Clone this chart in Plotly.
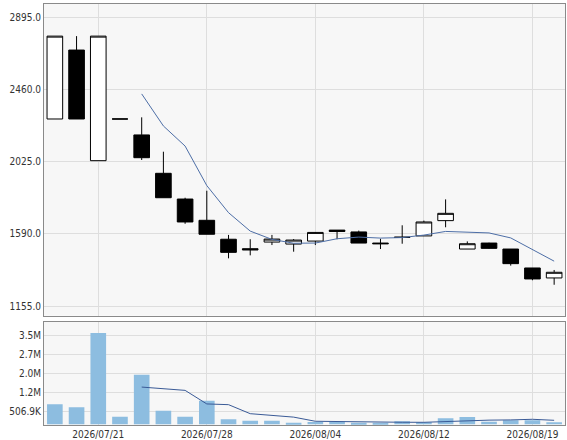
import plotly.graph_objects as go

dates = ["2026/07/16", "2026/07/17", "2026/07/21", "2026/07/22", "2026/07/23", "2026/07/24",
         "2026/07/27", "2026/07/28", "2026/07/29", "2026/07/30", "2026/07/31", "2026/08/03",
         "2026/08/04", "2026/08/05", "2026/08/06", "2026/08/07", "2026/08/10", "2026/08/12",
         "2026/08/13", "2026/08/14", "2026/08/17", "2026/08/18", "2026/08/19", "2026/08/20"]

open_p = [2281, 2696, 2030, 2281, 2185, 1954, 1799, 1671, 1557, 1500, 1540, 1528,
          1546, 1612, 1601, 1534, 1570, 1577, 1669, 1498, 1534, 1498, 1384, 1324]
high_p = [2780, 2780, 2780, 2281, 2291, 2084, 1807, 1849, 1583, 1557, 1583, 1558,
          1600, 1612, 1609, 1560, 1641, 1669, 1797, 1544, 1536, 1498, 1384, 1372]
low_p = [2281, 2281, 2030, 2281, 2034, 1807, 1650, 1587, 1442, 1460, 1522, 1482,
         1522, 1557, 1534, 1498, 1530, 1577, 1629, 1498, 1500, 1398, 1310, 1283]
close_p = [2780, 2281, 2780, 2281, 2048, 1807, 1661, 1587, 1478, 1493, 1558, 1552,
           1598, 1604, 1534, 1530, 1568, 1661, 1713, 1530, 1502, 1410, 1318, 1358]

price_ma = [None, None, None, None, 2432, 2239, 2118, 1880, 1717, 1606, 1556, 1533,
            1534, 1560, 1570, 1564, 1567, 1582, 1604, 1601, 1595, 1565, 1497, 1425]

volume = [779000, 662000, 3556000, 296000, 1932000, 530000, 296000, 919000, 195000, 140000,
          140000, 51000, 90000, 90000, 64000, 39000, 117000, 78000, 234000, 284000,
          101000, 156000, 156000, 78000]

volume_ma = [None, None, None, None, 1450000, 1390000, 1322000, 793000, 765000, 414000,
             345000, 280000, 118000, 102000, 87000, 67000, 80000, 78000, 106000, 150000,
             163000, 171000, 195000, 156000]

x_tick_vals = ["2026/07/21", "2026/07/28", "2026/08/04", "2026/08/12", "2026/08/19"]
price_tick_vals = [1155, 1590, 2025, 2460, 2895]
price_tick_text = ["1155.0", "1590.0", "2025.0", "2460.0", "2895.0"]
vol_tick_vals = [506900, 1246900, 1986900, 2726900, 3466900]
vol_tick_text = ["506.9K", "1.2M", "2.0M", "2.7M", "3.5M"]

FONT = "DejaVu Sans Condensed, DejaVu Sans, sans-serif"
GRID = "#dedede"
BORDER = "#8a8a8a"

fig = go.Figure()
fig.add_trace(go.Candlestick(
    x=dates, open=open_p, high=high_p, low=low_p, close=close_p,
    increasing=dict(fillcolor="#ffffff", line=dict(color="#000000", width=1)),
    decreasing=dict(fillcolor="#000000", line=dict(color="#000000", width=1)),
    whiskerwidth=0, xaxis="x", yaxis="y", showlegend=False, hoverinfo="skip",
))
fig.add_trace(go.Scatter(
    x=dates, y=price_ma, mode="lines", line=dict(color="#4d6ea6", width=1),
    xaxis="x", yaxis="y", showlegend=False, hoverinfo="skip",
))
fig.add_trace(go.Bar(
    x=dates, y=volume, marker=dict(color="#8dbde0", line=dict(width=0)),
    xaxis="x2", yaxis="y2", showlegend=False, hoverinfo="skip",
))
fig.add_trace(go.Scatter(
    x=dates, y=volume_ma, mode="lines", line=dict(color="#3a5a96", width=1),
    xaxis="x2", yaxis="y2", showlegend=False, hoverinfo="skip",
))

axis_common = dict(showgrid=True, gridcolor=GRID, gridwidth=1, zeroline=False,
                   showline=True, linecolor=BORDER, linewidth=1, mirror=True,
                   ticks="", automargin=False)

fig.update_layout(
    template="none",
    width=567, height=440,
    margin=dict(l=44, r=2, t=4, b=15),
    paper_bgcolor="#ffffff",
    plot_bgcolor="#f7f7f7",
    font=dict(family=FONT, size=10, color="#333333"),
    boxgap=0.28,
    boxgroupgap=0,
    bargap=0.28,
    xaxis=dict(type="category", domain=[0, 1], anchor="y", range=[-0.5, 23.5],
               tickvals=x_tick_vals, showticklabels=False,
               rangeslider=dict(visible=False), **axis_common),
    yaxis=dict(domain=[0.2596, 1], anchor="x", range=[1096.6, 2973.3],
               tickvals=price_tick_vals, ticktext=price_tick_text, **axis_common),
    xaxis2=dict(type="category", domain=[0, 1], anchor="y2", range=[-0.5, 23.5],
                matches="x", tickvals=x_tick_vals, ticktext=x_tick_vals,
                showticklabels=True, **axis_common),
    yaxis2=dict(domain=[0, 0.2454], anchor="x2", range=[-27000, 3997000],
                tickvals=vol_tick_vals, ticktext=vol_tick_text, **axis_common),
)

fig.write_html("out.html", config={"displayModeBar": False},
               post_script="document.body.style.margin='0';")
